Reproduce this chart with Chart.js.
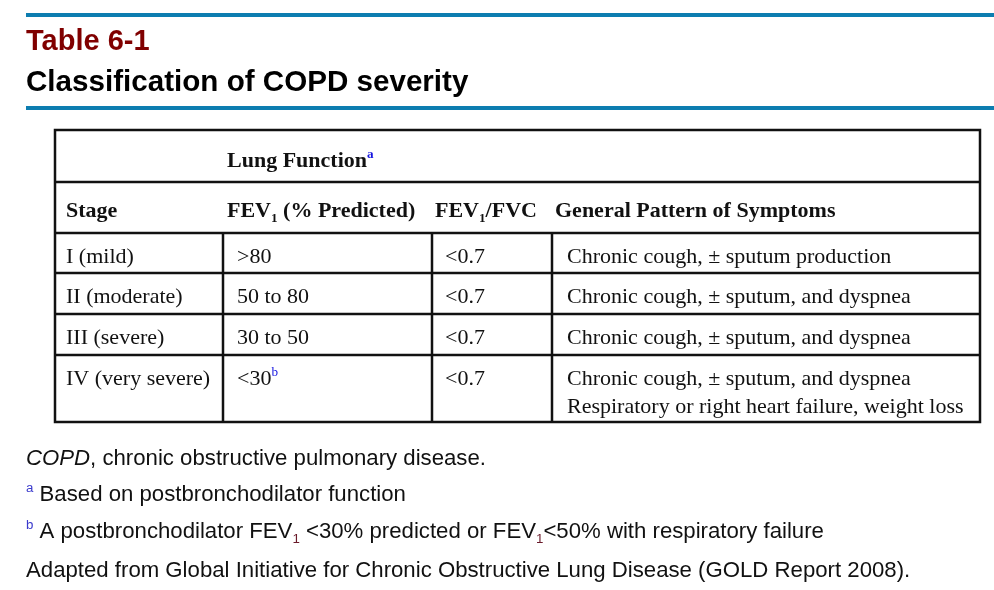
<!DOCTYPE html>
<html>
<head>
<meta charset="utf-8">
<title>Table 6-1 Classification of COPD severity</title>
<script src="https://cdn.jsdelivr.net/npm/chart.js@4.4.0/dist/chart.umd.min.js"></script>
<style>
    html, body { margin: 0; padding: 0; background: #ffffff; }
    #wrap { width: 994px; height: 590px; }
</style>
</head>
<body>
<div id="wrap"><canvas id="tableChart" width="994" height="590"></canvas></div>
<script>
// Table content (one entry per severity stage)
var stages = ['I (mild)', 'II (moderate)', 'III (severe)', 'IV (very severe)'];
var fev1Predicted = ['>80', '50 to 80', '30 to 50', '<30'];
var fev1Marks = ['', '', '', 'b'];
var fev1FvcRatio = ['<0.7', '<0.7', '<0.7', '<0.7'];
var symptoms = [
    ['Chronic cough, \u00b1 sputum production'],
    ['Chronic cough, \u00b1 sputum, and dyspnea'],
    ['Chronic cough, \u00b1 sputum, and dyspnea'],
    ['Chronic cough, \u00b1 sputum, and dyspnea', 'Respiratory or right heart failure, weight loss']
];

// Header cells, written as runs so sub/superscripts can be drawn
var groupHeader = [{ t: 'Lung Function' }, { t: 'a', sup: true, color: '#1515e0' }];
var columnHeaders = [
    [{ t: 'Stage' }],
    [{ t: 'FEV' }, { t: '1', sub: true }, { t: ' (% Predicted)' }],
    [{ t: 'FEV' }, { t: '1', sub: true }, { t: '/FVC' }],
    [{ t: 'General Pattern of Symptoms' }]
];

var footnotes = [
    [{ t: 'COPD', italic: true }, { t: ', chronic obstructive pulmonary disease.' }],
    [{ t: 'a', sup: true, color: '#3a3acc' }, { t: ' Based on postbronchodilator function' }],
    [{ t: 'b', sup: true, color: '#3a3acc' }, { t: ' A postbronchodilator FEV' }, { t: '1', sub: true, color: '#6a1a2a' },
     { t: ' <30% predicted or FEV' }, { t: '1', sub: true, color: '#6a1a2a' }, { t: '<50% with respiratory failure' }],
    [{ t: 'Adapted from Global Initiative for Chronic Obstructive Lung Disease (GOLD Report 2008).' }]
];

// Layout, in page units that the hidden linear scales map to pixels
var layout = {
    colEdges: [55, 223, 432, 552, 980],
    rowEdges: [130, 182, 233, 273, 314, 355, 422],
    cellTextX: [66, 237, 445, 567],
    headTextX: [66, 227, 435, 555],
    blueRules: [15, 108],
    footBaselines: [465, 501, 538, 577]
};

var serif = '"Liberation Serif", "Times New Roman", serif';
var sans = '"Liberation Sans", Arial, sans-serif';

function drawRuns(ctx, x, y, runs, base) {
    runs.forEach(function(r) {
        var small = r.sup || r.sub;
        var size = small ? base.size * 0.6 : base.size;
        ctx.font = (r.italic ? 'italic ' : '') + (base.bold ? 'bold ' : '') + size + 'px ' + base.family;
        ctx.fillStyle = r.color || base.color;
        var dy = r.sup ? -base.size * 0.4 : (r.sub ? base.size * 0.22 : 0);
        ctx.fillText(r.t, x, y + dy);
        x += ctx.measureText(r.t).width;
    });
}

var tablePlugin = {
    id: 'copdTable',
    afterDraw: function(chart) {
        var ctx = chart.ctx;
        var sx = chart.scales.x;
        var sy = chart.scales.y;
        var X = function(v) { return sx.getPixelForValue(v); };
        var Y = function(v) { return sy.getPixelForValue(v); };
        var c = layout.colEdges, r = layout.rowEdges;

        ctx.save();
        ctx.textBaseline = 'alphabetic';

        // blue rules above and below the title
        ctx.fillStyle = '#0d7db0';
        layout.blueRules.forEach(function(v) {
            ctx.fillRect(X(26), Y(v - 2), X(994) - X(26), 4);
        });

        // title
        ctx.font = 'bold 29px ' + sans;
        ctx.fillStyle = '#800000';
        ctx.fillText('Table 6-1', X(26), Y(50));
        ctx.font = 'bold 29.6px ' + sans;
        ctx.fillStyle = '#000000';
        ctx.fillText('Classification of COPD severity', X(26), Y(91));

        // table grid
        ctx.strokeStyle = '#111111';
        ctx.lineWidth = 2.5;
        ctx.beginPath();
        ctx.rect(X(c[0]), Y(r[0]), X(c[4]) - X(c[0]), Y(r[r.length - 1]) - Y(r[0]));
        for (var i = 1; i < r.length - 1; i++) {
            ctx.moveTo(X(c[0]), Y(r[i]));
            ctx.lineTo(X(c[4]), Y(r[i]));
        }
        for (var j = 1; j < c.length - 1; j++) {
            ctx.moveTo(X(c[j]), Y(r[2]));
            ctx.lineTo(X(c[j]), Y(r[r.length - 1]));
        }
        ctx.stroke();

        // header rows
        var head = { size: 22, family: serif, bold: true, color: '#111111' };
        drawRuns(ctx, X(layout.headTextX[1]), Y(r[0] + 37), groupHeader, head);
        columnHeaders.forEach(function(runs, k) {
            drawRuns(ctx, X(layout.headTextX[k]), Y(r[1] + 35), runs, head);
        });

        // data rows
        var body = { size: 22, family: serif, bold: false, color: '#111111' };
        stages.forEach(function(stage, k) {
            var top = r[k + 2];
            var base = top + 30;
            drawRuns(ctx, X(layout.cellTextX[0]), Y(base), [{ t: stage }], body);
            var fevRuns = [{ t: fev1Predicted[k] }];
            if (fev1Marks[k]) fevRuns.push({ t: fev1Marks[k], sup: true, color: '#1515e0' });
            drawRuns(ctx, X(layout.cellTextX[1]), Y(base), fevRuns, body);
            drawRuns(ctx, X(layout.cellTextX[2]), Y(base), [{ t: fev1FvcRatio[k] }], body);
            symptoms[k].forEach(function(line, n) {
                drawRuns(ctx, X(layout.cellTextX[3]), Y(base + n * 28), [{ t: line }], body);
            });
        });

        // footnotes
        var foot = { size: 22.2, family: sans, bold: false, color: '#111111' };
        footnotes.forEach(function(runs, k) {
            drawRuns(ctx, X(26), Y(layout.footBaselines[k]), runs, foot);
        });

        ctx.restore();
    }
};

document.addEventListener('DOMContentLoaded', function() {
    var el = document.getElementById('tableChart');
    new Chart(el.getContext('2d'), {
        type: 'scatter',
        data: { datasets: [] },
        options: {
            responsive: false,
            animation: false,
            devicePixelRatio: 1,
            layout: { padding: 0 },
            plugins: { legend: { display: false }, tooltip: { enabled: false } },
            scales: {
                x: { type: 'linear', min: 0, max: 994, display: false },
                y: { type: 'linear', min: 0, max: 590, reverse: true, display: false }
            }
        },
        plugins: [tablePlugin]
    });
});
</script>
</body>
</html>
